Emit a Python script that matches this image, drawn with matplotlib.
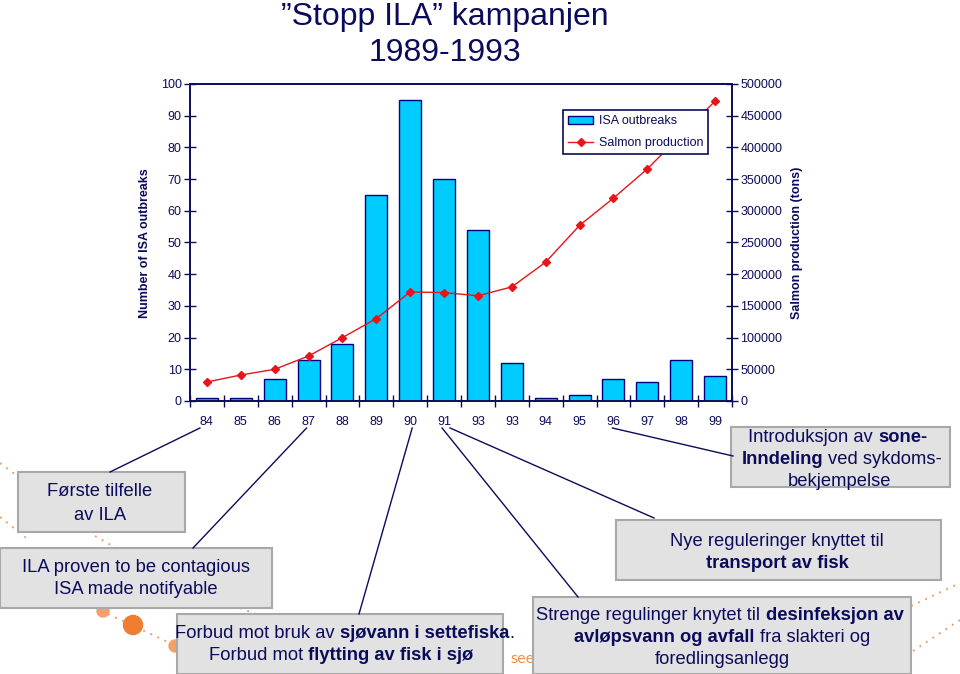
import matplotlib
matplotlib.use("Agg")
import matplotlib.pyplot as plt
from matplotlib.patches import Rectangle, Circle, Patch
from matplotlib.lines import Line2D

plt.rcParams['font.family'] = ['Liberation Sans', 'DejaVu Sans']

# data
years = ['84', '85', '86', '87', '88', '89', '90', '91', '93', '93',
         '94', '95', '96', '97', '98', '99']
isa_outbreaks = [1, 1, 7, 13, 18, 65, 95, 70, 54, 12, 1, 2, 7, 6, 13, 8]
salmon_tons = [30000, 41000, 50000, 71000, 100000, 130000, 172000, 171000,
               166000, 180000, 219000, 277000, 320000, 366000, 420000, 473000]

NAVY = '#0b0b5c'
W, H = 960, 674

fig = plt.figure(figsize=(9.6, 6.74), dpi=100)
ax = fig.add_axes([190 / W, 1 - 401 / H, 542 / W, 317 / H])
ax2 = ax.twinx()

x = list(range(len(years)))
ax.bar(x, isa_outbreaks, width=0.65, color='#00ccff', edgecolor='#000080',
       linewidth=1, zorder=2)
ax2.plot(x, salmon_tons, color='#e8141a', lw=1, marker='D', markersize=4.5,
         zorder=3)

ax.set_xlim(-0.5, len(years) - 0.5)
ax.set_ylim(0, 100)
ax.set_yticks(range(0, 101, 10))
ax2.set_ylim(0, 500000)
ax2.set_yticks(range(0, 500001, 50000))
ax2.set_yticklabels([str(v) for v in range(0, 500001, 50000)])

# boundaries as major ticks, labels at the bar centres
ax.set_xticks([i - 0.5 for i in range(len(years) + 1)])
ax.set_xticklabels([])
ax.set_xticks(x, minor=True)
ax.set_xticklabels(years, minor=True)
ax.tick_params(axis='x', which='minor', length=0, pad=11)
ax.tick_params(axis='x', which='major', direction='inout', length=8,
               color=NAVY, width=1)
ax.tick_params(axis='y', direction='inout', length=8, color=NAVY, width=1,
               pad=2)
ax2.tick_params(axis='y', direction='inout', length=8, color=NAVY, width=1,
                pad=2)
for a in (ax, ax2):
    for lab in a.get_xticklabels(minor=True) + a.get_yticklabels():
        lab.set_color(NAVY)
        lab.set_fontsize(9)
    for s in a.spines.values():
        s.set_color(NAVY)
        s.set_linewidth(1.2)

handles = [Patch(facecolor='#00ccff', edgecolor='#000080'),
           Line2D([], [], color='#e8141a', lw=1, marker='D', markersize=4.5)]
leg = ax2.legend(handles, ['ISA outbreaks', 'Salmon production'],
                 loc='upper left', bbox_to_anchor=(563 / W, 1 - 110 / H),
                 bbox_transform=fig.transFigure, borderaxespad=0,
                 fancybox=False, edgecolor=NAVY, framealpha=1, fontsize=9,
                 handlelength=2.0, handleheight=0.6, handletextpad=0.45,
                 borderpad=0.4, labelspacing=0.8)
leg.get_frame().set_linewidth(1.2)
for t in leg.get_texts():
    t.set_color(NAVY)

fig.text(145 / W, 1 - 243 / H, 'Number of ISA outbreaks', rotation=90,
         ha='center', va='center', fontsize=9, fontweight='bold', color=NAVY)
fig.text(797 / W, 1 - 243 / H, 'Salmon production (tons)', rotation=90,
         ha='center', va='center', fontsize=9, fontweight='bold', color=NAVY)

fig.text(445 / W, 1 - 17 / H, '\u201dStopp ILA\u201d kampanjen', ha='center',
         va='center', fontsize=23, color=NAVY)
fig.text(445 / W, 1 - 53 / H, '1989-1993', ha='center', va='center',
         fontsize=23, color=NAVY)

# overlay in pixel coordinates for the slide annotations
ov = fig.add_axes([0, 0, 1, 1], zorder=10)
ov.set_xlim(0, W)
ov.set_ylim(H, 0)
ov.axis('off')
ov.patch.set_alpha(0)

ORANGE = '#ef7d32'
# decorative dotted lines and dots from the slide background
for (x0, y0, x1, y1) in [(0, 463, 20, 478), (0, 517, 30, 541),
                         (95, 536, 118, 549), (108, 614, 170, 643),
                         (240, 608, 256, 614), (911, 606, 960, 583),
                         (913, 651, 960, 620)]:
    ov.plot([x0, x1], [y0, y1], ls=(0, (1, 3)), color='#eba070', lw=1.4,
            zorder=1)
ov.add_patch(Circle((103, 611), 6, color='#f3a06a', zorder=1))
ov.add_patch(Circle((133, 625), 9.5, color=ORANGE, zorder=1))
ov.add_patch(Circle((175, 646), 6, color='#f3a06a', zorder=1))
ov.text(510, 659, 'see', fontsize=10, color='#e8904a', va='center',
        ha='left', family='DejaVu Sans', zorder=1)

boxes = [(18, 472, 185, 532), (0, 548, 272, 608), (177, 614, 503, 674),
         (731, 427, 950, 487), (616, 520, 941, 580), (533, 597, 911, 674)]
for (x0, y0, x1, y1) in boxes:
    ov.add_patch(Rectangle((x0, y0), x1 - x0, y1 - y0, facecolor='#e2e2e2',
                           edgecolor='#a8a8a8', lw=1.5, zorder=2))

# connector lines from the year labels to the boxes
def cat_px(i):
    return ax.transData.transform((i, 0))[0]

for i, dx, (ex, ey) in [(0, -7, (110, 472)), (3, -2, (193, 548)),
                        (6, 2, (359, 614)), (7, -2, (578, 597)),
                        (7, 6, (654, 518)), (12, -1, (733, 456))]:
    ov.plot([cat_px(i) + dx, ex], [428, ey], color=NAVY, lw=1, zorder=3)

renderer = fig.canvas.get_renderer()
SIZE = 13.2


def width_of(s, bold, size):
    t = ov.text(0, 0, s, fontsize=size,
                fontweight='bold' if bold else 'normal')
    w = t.get_window_extent(renderer).width
    t.remove()
    return w


def rich_line(cx, cy, segments, size=SIZE):
    # a segment starting with punctuation is glued to the one before it
    space = width_of('a a', False, size) - width_of('aa', False, size)
    widths = [width_of(s, b, size) for s, b in segments]
    gaps = [0 if s[0] in '.,' else space for s, b in segments[1:]]
    total = sum(widths) + sum(gaps)
    xpos = cx - total / 2
    for k, ((s, b), w) in enumerate(zip(segments, widths)):
        if k > 0:
            xpos += gaps[k - 1]
        ov.text(xpos, cy, s, fontsize=size,
                fontweight='bold' if b else 'normal', color=NAVY,
                ha='left', va='center', zorder=4)
        xpos += w


lines = [
    (100, 492, [('Første tilfelle', False)]),
    (100, 515, [('av ILA', False)]),
    (136, 568, [('ILA proven to be contagious', False)]),
    (136, 590, [('ISA made notifyable', False)]),
    (345, 633, [('Forbud mot bruk av', False), ('sjøvann i settefiska', True),
                ('.', False)]),
    (341, 656, [('Forbud mot', False), ('flytting av fisk i sjø', True)]),
    (838, 437, [('Introduksjon av', False), ('sone-', True)]),
    (842, 459, [('Inndeling', True), ('ved sykdoms-', False)]),
    (840, 482, [('bekjempelse', False)]),
    (777, 541, [('Nye reguleringer knyttet til', False)]),
    (777, 563, [('transport av fisk', True)]),
    (720, 615, [('Strenge regulinger knytet til', False),
                ('desinfeksjon av', True)]),
    (722, 637, [('avløpsvann og avfall', True), ('fra slakteri og', False)]),
    (722, 660, [('foredlingsanlegg', False)]),
]
for cx, cy, segs in lines:
    rich_line(cx, cy, segs)

fig.savefig('out.png', dpi=100)
